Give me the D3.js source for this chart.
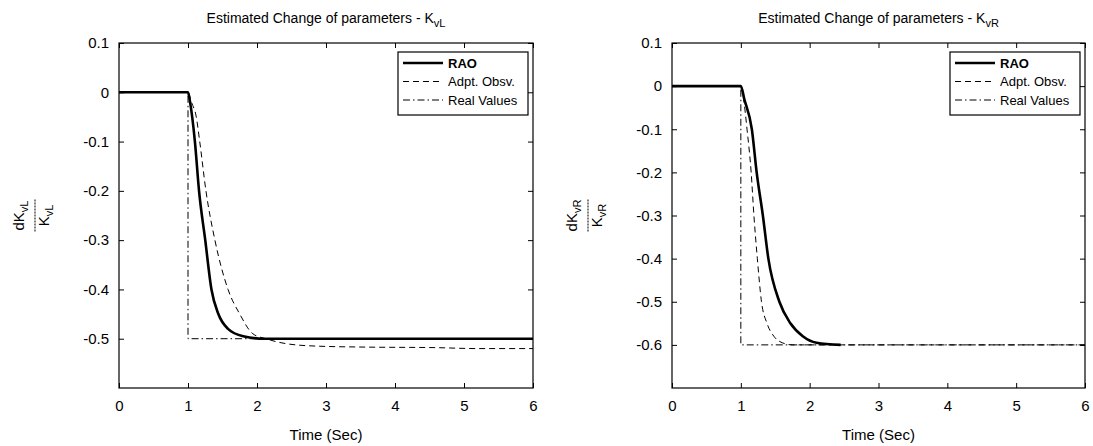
<!DOCTYPE html>
<html>
<head>
<meta charset="utf-8">
<script src="https://cdn.jsdelivr.net/npm/d3@7"></script>
<style>
body { margin: 0; background: #fff; }
text { font-family: Arial, "Liberation Sans", sans-serif; fill: #000; }
</style>
</head>
<body>
<div id="chart"></div>
<script>
/* values */

var xTicks = [0, 1, 2, 3, 4, 5, 6];
var yTicksL = [0.1, 0, -0.1, -0.2, -0.3, -0.4, -0.5];
var yTicksR = [0.1, 0, -0.1, -0.2, -0.3, -0.4, -0.5, -0.6];
var legendNames = ['RAO', 'Adpt. Obsv.', 'Real Values'];

// left panel : K_vL
var raoL_t = [0, 1.0, 1.03, 1.1, 1.16, 1.25, 1.34, 1.44, 1.58, 1.8, 2.1, 3, 4, 5, 6];
var raoL_v = [0, 0, -0.02, -0.1, -0.2, -0.3, -0.4, -0.45, -0.48, -0.495, -0.5, -0.5, -0.5, -0.5, -0.5];
var adptL_t = [0, 1.0, 1.05, 1.12, 1.17, 1.26, 1.39, 1.58, 1.75, 1.94, 2.13, 2.42, 2.86, 3.58, 4.55, 5.2, 6];
var adptL_v = [0, 0, -0.02, -0.05, -0.1, -0.2, -0.3, -0.4, -0.45, -0.49, -0.5, -0.51, -0.515, -0.517, -0.518, -0.52, -0.52];
var realL_t = [0, 1, 1, 6];
var realL_v = [0, 0, -0.5, -0.5];

// right panel : K_vR
var raoR_t = [0, 1.0, 1.05, 1.16, 1.23, 1.32, 1.4, 1.56, 1.72, 1.9, 2.1, 2.45];
var raoR_v = [0, 0, -0.03, -0.1, -0.2, -0.3, -0.4, -0.5, -0.55, -0.58, -0.595, -0.6];
var adptR_t = [0, 1.0, 1.04, 1.09, 1.15, 1.19, 1.24, 1.3, 1.38, 1.48, 1.6, 1.75, 2.5, 4, 6];
var adptR_v = [0, 0, -0.03, -0.1, -0.2, -0.3, -0.4, -0.5, -0.55, -0.58, -0.595, -0.6, -0.6, -0.6, -0.6];
var realR_t = [0, 1, 1, 6];
var realR_v = [0, 0, -0.6, -0.6];

function pairs(t, v) {
	return t.map(function (d, i) { return [d, v[i]]; });
}

var width = 1093;
var height = 446;
var top_y = 43, bottom_y = 388;

var svg = d3.select('#chart').append('svg')
	.attr('width', width)
	.attr('height', height);

var styles = [
	{ w: 2.6, dash: null },
	{ w: 1, dash: '6,4' },
	{ w: 1, dash: '7,3,1.5,3' }
];

var panels = [
	{ left: 119, right: 533, ymin: -0.6, yticks: yTicksL, sub: 'vL',
	  series: [pairs(raoL_t, raoL_v), pairs(adptL_t, adptL_v), pairs(realL_t, realL_v)] },
	{ left: 672, right: 1085, ymin: -0.7, yticks: yTicksR, sub: 'vR',
	  series: [pairs(raoR_t, raoR_v), pairs(adptR_t, adptR_v), pairs(realR_t, realR_v)] }
];

panels.forEach(function (p) {
	var x = d3.scaleLinear().domain([0, 6]).range([p.left, p.right]);
	var y = d3.scaleLinear().domain([p.ymin, 0.1]).range([bottom_y, top_y]);
	var fmt = function (d) { return d === 0 ? '0' : String(d); };

	// axes, ticks pointing inward on all four sides
	var ax = svg.append('g').attr('transform', 'translate(0,' + bottom_y + ')')
		.call(d3.axisBottom(x).tickValues(xTicks).tickSize(-5).tickPadding(12).tickFormat(fmt));
	ax.selectAll('text').style('font-size', '15px');
	svg.append('g').attr('transform', 'translate(0,' + top_y + ')')
		.call(d3.axisTop(x).tickValues(xTicks).tickSize(-5).tickFormat(''));
	var ay = svg.append('g').attr('transform', 'translate(' + p.left + ',0)')
		.call(d3.axisLeft(y).tickValues(p.yticks).tickSize(-5).tickPadding(10).tickFormat(fmt));
	ay.selectAll('text').style('font-size', '15px');
	svg.append('g').attr('transform', 'translate(' + p.right + ',0)')
		.call(d3.axisRight(y).tickValues(p.yticks).tickSize(-5).tickFormat(''));
	svg.selectAll('.domain').remove();
	svg.selectAll('.tick line').attr('stroke', '#000');

	svg.append('rect')
		.attr('x', p.left).attr('y', top_y)
		.attr('width', p.right - p.left).attr('height', bottom_y - top_y)
		.attr('fill', 'none').attr('stroke', '#000').attr('stroke-width', 1.2);

	// curves
	var line = d3.line()
		.x(function (d) { return x(d[0]); })
		.y(function (d) { return y(d[1]); });
	p.series.forEach(function (s, i) {
		svg.append('path')
			.datum(s)
			.attr('d', line.curve(i === 2 ? d3.curveLinear : d3.curveMonotoneX))
			.attr('fill', 'none')
			.attr('stroke', '#000')
			.attr('stroke-width', styles[i].w)
			.attr('stroke-dasharray', styles[i].dash);
	});

	// title
	var cx = (p.left + p.right) / 2;
	var title = svg.append('text')
		.attr('x', cx).attr('y', 23)
		.attr('text-anchor', 'middle')
		.style('font-size', '14px')
		.text('Estimated Change of parameters - K');
	title.append('tspan').attr('dy', 4).style('font-size', '11px').text(p.sub);

	// x label
	svg.append('text')
		.attr('x', cx).attr('y', 440)
		.attr('text-anchor', 'middle')
		.style('font-size', '15px')
		.text('Time (Sec)');

	// y label : dK/K as a rotated fraction
	var yl = svg.append('g')
		.attr('transform', 'translate(' + (p.left - 84) + ',' + ((top_y + bottom_y) / 2) + ') rotate(-90)');
	var num = yl.append('text').attr('x', 0).attr('y', -11)
		.attr('text-anchor', 'middle').style('font-size', '15px').text('dK');
	num.append('tspan').attr('dy', 4).style('font-size', '11px').text(p.sub);
	yl.append('line')
		.attr('x1', -16).attr('x2', 16).attr('y1', 0).attr('y2', 0)
		.attr('stroke', '#000').attr('stroke-width', 1).attr('stroke-dasharray', '2,1');
	var den = yl.append('text').attr('x', 0).attr('y', 14)
		.attr('text-anchor', 'middle').style('font-size', '15px').text('K');
	den.append('tspan').attr('dy', 4).style('font-size', '11px').text(p.sub);

	// legend
	var lw = 130, lh = 63;
	var lx = p.right - 5 - lw, ly = 52;
	var lg = svg.append('g').attr('transform', 'translate(' + lx + ',' + ly + ')');
	lg.append('rect').attr('width', lw).attr('height', lh)
		.attr('fill', '#fff').attr('stroke', '#000').attr('stroke-width', 1.2);
	legendNames.forEach(function (name, i) {
		var ry = 11 + i * 18.5;
		lg.append('line')
			.attr('x1', 5).attr('x2', 45).attr('y1', ry).attr('y2', ry)
			.attr('stroke', '#000')
			.attr('stroke-width', styles[i].w)
			.attr('stroke-dasharray', styles[i].dash);
		lg.append('text')
			.attr('x', 50).attr('y', ry + 4.5)
			.style('font-size', '13px')
			.style('font-weight', i === 0 ? 'bold' : 'normal')
			.text(name);
	});
});
</script>
</body>
</html>
